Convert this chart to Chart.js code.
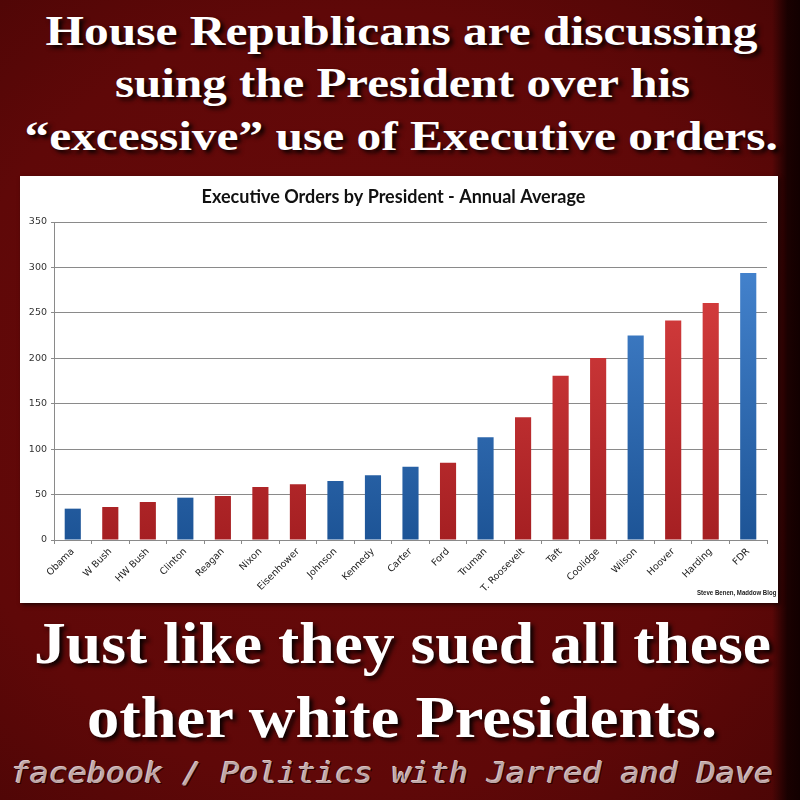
<!DOCTYPE html>
<html><head><meta charset="utf-8">
<script src="https://cdn.jsdelivr.net/npm/chart.js@4.4.0/dist/chart.umd.min.js"></script>
<style>
html,body{margin:0;padding:0;width:800px;height:800px;overflow:hidden;}
#bg{position:absolute;left:0;top:0;width:800px;height:800px;
 background:radial-gradient(ellipse 80% 75% at 45% 50%, #690a0a 0%, #5f0808 65%, #480505 100%);}
#edge{position:absolute;left:772px;top:0;width:28px;height:800px;background:linear-gradient(to right, rgba(20,0,0,0) 0%, rgba(20,0,0,0.9) 55%, #120000 100%);}
.hl{position:absolute;white-space:nowrap;color:#fff;font-family:"Liberation Serif","DejaVu Serif",serif;font-weight:bold;line-height:1;
 text-shadow:3px 3px 4px rgba(0,0,0,0.9);transform-origin:center center;}
#foot{position:absolute;white-space:nowrap;color:#bfa6a6;font-family:"DejaVu Sans Mono",monospace;font-style:italic;line-height:1;
 text-shadow:1px 1px 0 #2a0000,-1px -1px 0 #d8c4c4;transform-origin:center center;}
#box{position:absolute;left:20px;top:176px;width:758px;height:427px;background:#fff;box-shadow:2px 2px 4px rgba(0,0,0,0.6);}
#credit{position:absolute;font-family:"Liberation Sans Narrow","Liberation Sans",sans-serif;font-weight:bold;font-size:7px;line-height:1;color:#222;white-space:nowrap;transform-origin:left center;}
</style></head>
<body>
<div id="bg"></div><div id="edge"></div>
<div class="hl" data-cx="401" data-w="712" data-base="45" data-fs="42">House Republicans are discussing</div>
<div class="hl" data-cx="402" data-w="575" data-base="97" data-fs="42">suing the President over his</div>
<div class="hl" data-cx="401" data-w="753" data-base="150" data-fs="42">“excessive” use of Executive orders.</div>
<div id="box"><canvas id="c" width="758" height="427"></canvas></div>
<div id="credit">Steve Benen, Maddow Blog</div>
<div class="hl" data-cx="402" data-w="737" data-base="663" data-fs="60">Just like they sued all these</div>
<div class="hl" data-cx="402" data-w="630" data-base="737" data-fs="60">other white Presidents.</div>
<div id="foot" data-cx="392" data-w="762" data-base="783" data-fs="28">facebook / Politics with Jarred and Dave</div>
<script>
const presidents = ["Obama","W Bush","HW Bush","Clinton","Reagan","Nixon","Eisenhower","Johnson","Kennedy","Carter","Ford","Truman","T. Roosevelt","Taft","Coolidge","Wilson","Hoover","Harding","FDR"];
const ordersPerYear = [34.5,36.3,41.8,46.6,48.4,58.3,61.3,64.9,71.2,80.7,85.1,113,135,180.8,200.3,225.2,241.7,260.8,293.8];
const party = ["D","R","R","D","R","R","R","D","D","D","R","D","R","R","R","D","R","R","D"];
const yTicks = [0,50,100,150,200,250,300,350];
const chartTitle = "Executive Orders by President - Annual Average";

document.querySelectorAll('.hl,#foot').forEach(el=>{
  const fs=+el.dataset.fs; el.style.fontSize=fs+'px';
  const w=el.scrollWidth; const target=+el.dataset.w;
  const top=+el.dataset.base - 0.8375*fs;
  el.style.left=(+el.dataset.cx - w/2)+'px';
  el.style.top=top+'px';
  el.style.transform='scaleX('+(target/w)+')';
});
(function(){const el=document.getElementById('credit');const w=el.scrollWidth;
  el.style.left='697px';el.style.top='589px';el.style.transform='scaleX('+(79/w)+')';})();

function grad(ctx, area, p){
  const g=ctx.createLinearGradient(0,area.top,0,area.bottom);
  if(p==='D'){g.addColorStop(0,'#4a8ad6');g.addColorStop(1,'#1d5496');}
  else {g.addColorStop(0,'#e04444');g.addColorStop(1,'#a51f22');}
  return g;
}
new Chart(document.getElementById('c'),{
  type:'bar',
  data:{labels:presidents,datasets:[{data:ordersPerYear,
    backgroundColor:(c)=>{const a=c.chart.chartArea;if(!a)return '#888';return grad(c.chart.ctx,a,party[c.dataIndex]);},
    categoryPercentage:1,barPercentage:0.43,borderWidth:0}]},
  options:{responsive:false,animation:false,
    layout:{padding:{left:0,right:11,top:0,bottom:0}},
    plugins:{legend:{display:false},tooltip:{enabled:false},
      title:{display:true,text:chartTitle,color:'#111',font:{family:'Lato, "Open Sans", sans-serif',size:18,weight:'bold',lineHeight:1.2},padding:{top:10,bottom:14.4}}},
    scales:{
      y:{min:0,max:350,afterBuildTicks:(s)=>{s.ticks=yTicks.map(v=>({value:v}));},
        afterFit:(s)=>{s.width=34;},
        ticks:{color:'#333',font:{family:'"DejaVu Sans", sans-serif',size:9.5},padding:4},
        grid:{color:'#8a8a8a',lineWidth:1,tickLength:3,tickColor:'#8a8a8a'},
        border:{color:'#8a8a8a'}},
      x:{afterFit:(s)=>{s.height=63;},
        ticks:{color:'#222',font:{family:'"DejaVu Sans", sans-serif',size:9.5},minRotation:45,maxRotation:45,autoSkip:false,padding:2},
        grid:{display:true,drawOnChartArea:false,offset:true,tickLength:4,color:'#8a8a8a'},
        border:{color:'#8a8a8a'}}
    }}
});
</script>
</body></html>
